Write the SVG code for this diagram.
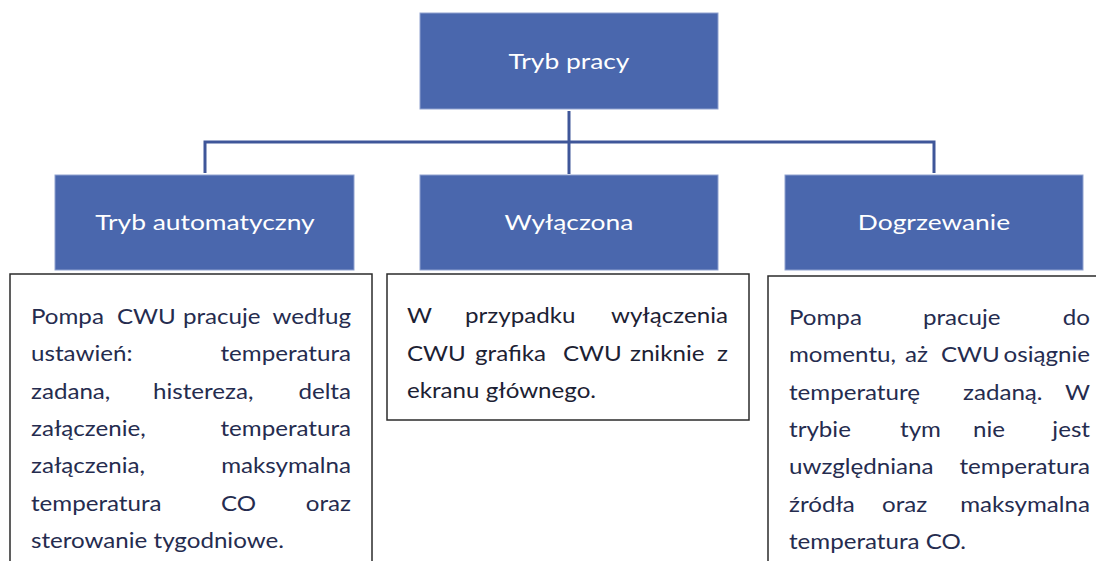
<svg xmlns="http://www.w3.org/2000/svg" width="1096" height="561" viewBox="0 0 1096 561">
<style>
.hdr{fill:#4a67ad;stroke:#8fa2cf;stroke-width:1}
.hl{font-family:Lato,"Liberation Sans",sans-serif;font-size:22px;fill:#ffffff;text-anchor:middle}
.desc{fill:#ffffff;stroke:#2b2b2b;stroke-width:1.5}
.t{font-family:Lato,"Liberation Sans",sans-serif;font-size:21px;fill:#252c4f}
.tb{font-family:Lato,"Liberation Sans",sans-serif;font-size:21px;fill:#1c2133}
.e{text-anchor:end}
.conn{fill:none;stroke:#3f5699;stroke-width:3}
</style>
<rect width="1096" height="561" fill="#ffffff"/>
<g id="connectors">
<path class="conn" d="M569,111 V174"/>
<path class="conn" d="M205,173 V142 H934 V173"/>
</g>
<g id="node-tryb-pracy">
<rect class="hdr" x="420" y="13" width="298" height="96"/>
<g transform="scale(1.2,1)"><text class="hl" x="474.17" y="69">Tryb pracy</text></g>
</g>
<g id="node-tryb-automatyczny">
<rect class="hdr" x="55" y="175" width="299" height="95"/>
<g transform="scale(1.2,1)"><text class="hl" x="170.83" y="230">Tryb automatyczny</text></g>
</g>
<g id="node-wylaczona">
<rect class="hdr" x="420" y="175" width="298" height="95"/>
<g transform="scale(1.2,1)"><text class="hl" x="474.17" y="230">Wyłączona</text></g>
</g>
<g id="node-dogrzewanie">
<rect class="hdr" x="785" y="175" width="298" height="95"/>
<g transform="scale(1.2,1)"><text class="hl" x="778.33" y="230">Dogrzewanie</text></g>
</g>
<g id="desc-automatyczny">
<rect class="desc" x="10" y="274" width="362" height="300"/>
<g transform="scale(1.15,1)">
<text class="t" y="324"><tspan x="26.96">Pompa</tspan><tspan x="101.74">CWU</tspan><tspan x="159.13">pracuje</tspan><tspan x="305.22" class="e">według</tspan></text>
<text class="t" y="361.3"><tspan x="26.96">ustawień:</tspan><tspan x="305.22" class="e">temperatura</tspan></text>
<text class="t" y="398.6"><tspan x="26.96">zadana,</tspan><tspan x="133.04">histereza,</tspan><tspan x="305.22" class="e">delta</tspan></text>
<text class="t" y="436"><tspan x="26.96">załączenie,</tspan><tspan x="305.22" class="e">temperatura</tspan></text>
<text class="t" y="473.3"><tspan x="26.96">załączenia,</tspan><tspan x="305.22" class="e">maksymalna</tspan></text>
<text class="t" y="510.6"><tspan x="26.96">temperatura</tspan><tspan x="192.17">CO</tspan><tspan x="305.22" class="e">oraz</tspan></text>
<text class="t" x="26.96" y="548">sterowanie tygodniowe.</text>
</g>
</g>
<g id="desc-wylaczona">
<rect class="desc" x="387" y="274" width="362" height="146"/>
<g transform="scale(1.15,1)">
<text class="tb" y="323.3"><tspan x="353.91">W</tspan><tspan x="404.35">przypadku</tspan><tspan x="633.04" class="e">wyłączenia</tspan></text>
<text class="tb" y="360.6"><tspan x="353.91">CWU</tspan><tspan x="413.04">grafika</tspan><tspan x="489.57">CWU</tspan><tspan x="547.83">zniknie</tspan><tspan x="633.04" class="e">z</tspan></text>
<text class="tb" x="353.91" y="398">ekranu głównego.</text>
</g>
</g>
<g id="desc-dogrzewanie">
<rect class="desc" x="768" y="276" width="340" height="300"/>
<g transform="scale(1.15,1)">
<text class="t" y="325"><tspan x="686.09">Pompa</tspan><tspan x="802.61">pracuje</tspan><tspan x="947.83" class="e">do</tspan></text>
<text class="t" y="362.3"><tspan x="686.09">momentu,</tspan><tspan x="786.96">aż</tspan><tspan x="818.26">CWU</tspan><tspan x="947.83" class="e">osiągnie</tspan></text>
<text class="t" y="399.6"><tspan x="686.09">temperaturę</tspan><tspan x="837.39">zadaną.</tspan><tspan x="947.83" class="e">W</tspan></text>
<text class="t" y="437"><tspan x="686.09">trybie</tspan><tspan x="782.61">tym</tspan><tspan x="846.09">nie</tspan><tspan x="947.83" class="e">jest</tspan></text>
<text class="t" y="474.3"><tspan x="686.09">uwzględniana</tspan><tspan x="947.83" class="e">temperatura</tspan></text>
<text class="t" y="511.6"><tspan x="686.09">źródła</tspan><tspan x="766.96">oraz</tspan><tspan x="947.83" class="e">maksymalna</tspan></text>
<text class="t" x="686.09" y="549">temperatura CO.</text>
</g>
</g>
</svg>
